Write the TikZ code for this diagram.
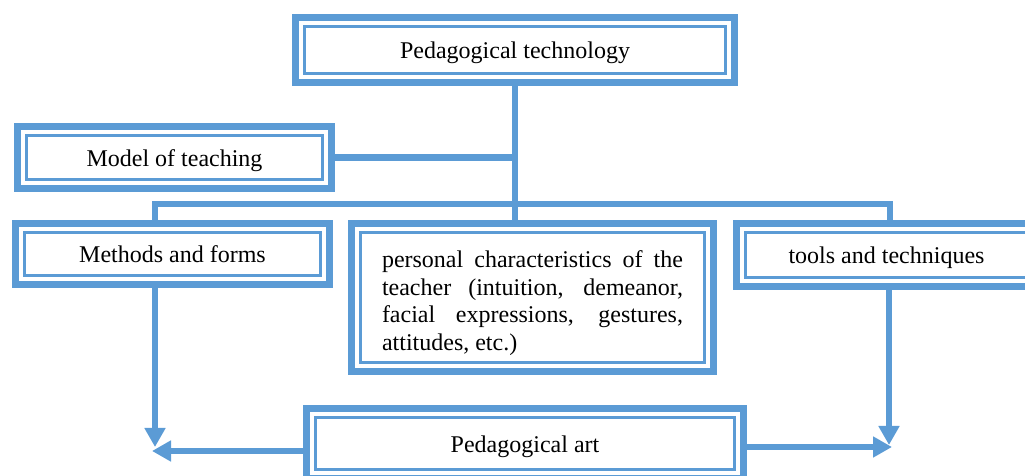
\documentclass[tikz,border=0pt]{standalone}
\usepackage{fontspec}
\setmainfont{Liberation Serif}
\usetikzlibrary{arrows.meta}
\definecolor{boxblue}{RGB}{91,155,213}

\begin{document}
\begin{tikzpicture}[x=0.5pt, y=-0.5pt,
    box/.style={draw=boxblue, line width=3.8pt, fill=white, minimum width=#1, font=\fontsize{12}{13.8}\selectfont,
        path picture={\draw[boxblue, line width=1.2pt] ([shift={(4.5pt,-4.5pt)}]path picture bounding box.north west) rectangle ([shift={(-4.5pt,4.5pt)}]path picture bounding box.south east);}},
    oneline/.style={text height=9pt, text depth=0pt},
    link/.style={draw=boxblue, line width=3.2pt},
    arrow/.style={link, -{Triangle[length=9.5pt, width=10pt]}},
]
\useasboundingbox (0,0) rectangle (1025,476);
\clip (0,0) rectangle (1025,476);
% Boxes
\node[box=219.5pt, oneline, minimum height=32.5pt] (tech) at (515,50) {Pedagogical technology};
\node[box=157pt, oneline, minimum height=31pt] (model) at (174.5,157.5) {Model of teaching};
\node[box=157pt, oneline, minimum height=30.5pt] (methods) at (172.5,254) {Methods and forms};
\node[box=181pt, minimum height=74pt, text width=150.5pt, align=justify] (personal) at (532.5,297.5)
    {\rule{0pt}{14pt}personal characteristics of the\linebreak teacher (intuition, demeanor,\linebreak facial expressions, gestures,\linebreak attitudes, etc.)};
\node[box=150pt, oneline, minimum height=31.5pt] (tools) at (886.5,255) {tools and techniques};
\node[box=218.5pt, oneline, minimum height=35pt] (art) at (525,443.5) {Pedagogical art};
% Branch points and arrow ends
\coordinate (barL) at (155,204);
\coordinate (barR) at (890,204);
\coordinate (tipL) at (155,447);
\coordinate (leftEnd) at (152,451);
\coordinate (tipR) at (889,445);
\coordinate (rightEnd) at (892,447);
% Connectors
\draw[link] (tech.south) -- (tech.south |- personal.north);
\draw[link] (model.east) -- (model.east -| tech.south);
\draw[link] (methods.north -| barL) -- (barL) -- (barR) -- (tools.north -| barR);
\draw[arrow] (methods.south -| tipL) -- (tipL);
\draw[arrow] (tools.south -| tipR) -- (tipR);
\draw[arrow] (leftEnd -| art.west) -- (leftEnd);
\draw[arrow] (rightEnd -| art.east) -- (rightEnd);
\end{tikzpicture}
\end{document}
